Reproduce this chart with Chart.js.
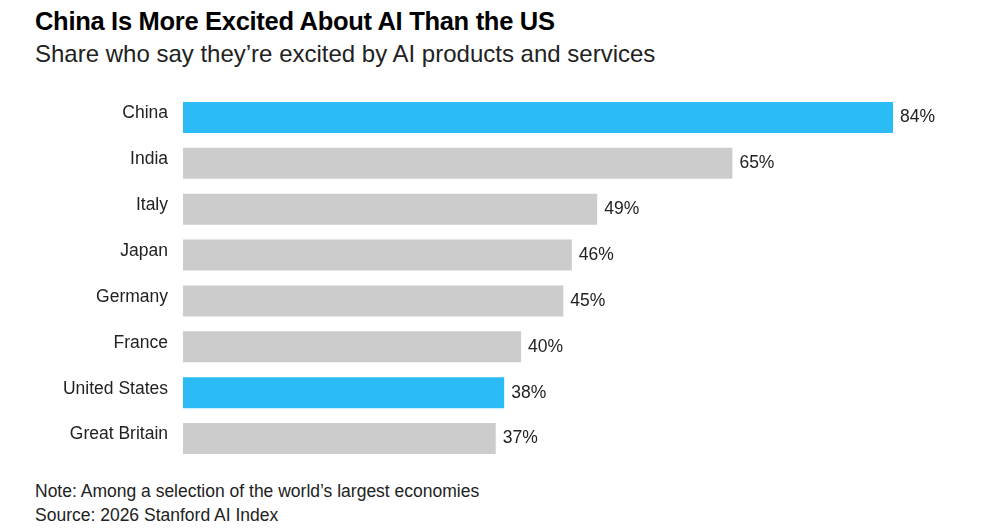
<!DOCTYPE html>
<html><head><meta charset="utf-8">
<script src="https://cdn.jsdelivr.net/npm/chart.js@4"></script>
<style>
body{margin:0;width:985px;height:528px;background:#fff;font-family:"Liberation Sans",Arial,sans-serif;position:relative;overflow:hidden}
.t{position:absolute;left:35px;white-space:nowrap;color:#000}
#c{position:absolute;left:0;top:77px}
</style></head><body>
<canvas id="c" width="985" height="402"></canvas>
<div class="t" style="top:7px;font-size:25.5px;font-weight:bold;letter-spacing:-0.3px">China Is More Excited About AI Than the US</div>
<div class="t" style="top:40px;font-size:24px;color:#222">Share who say they’re excited by AI products and services</div>
<div class="t" style="top:481px;font-size:17.5px;color:#222">Note: Among a selection of the world’s largest economies</div>
<div class="t" style="top:505px;font-size:17.5px;color:#222">Source: 2026 Stanford AI Index</div>
<script>
const categories=["China","India","Italy","Japan","Germany","France","United States","Great Britain"];
const values=[84,65,49,46,45,40,38,37];
const highlight=["China","United States"];
const colors=categories.map(c=>highlight.includes(c)?"#2bbcf5":"#cccccc");
const labelPlugin={id:"lbl",afterDatasetsDraw(ch){const ctx=ch.ctx;const m=ch.getDatasetMeta(0);ctx.save();ctx.font="17.5px 'Liberation Sans', Arial";ctx.fillStyle="#222";ctx.textBaseline="middle";m.data.forEach((b,i)=>{ctx.fillText(values[i]+"%",b.x+7,b.y);});ctx.restore();}};
new Chart(document.getElementById("c"),{type:"bar",
data:{labels:categories,datasets:[{data:values,backgroundColor:colors,barPercentage:0.674,categoryPercentage:1}]},
options:{indexAxis:"y",responsive:false,animation:false,
layout:{padding:{left:0,right:92,top:0,bottom:0}},
plugins:{legend:{display:false},tooltip:{enabled:false}},
scales:{x:{display:false,min:0,max:84},
y:{grid:{display:false},border:{display:false},afterFit(s){s.width=183;},ticks:{padding:7,color:"#222",font:{size:17.5,family:"'Liberation Sans', Arial"},labelOffset:-4}}}},
plugins:[labelPlugin]});
</script></body></html>
